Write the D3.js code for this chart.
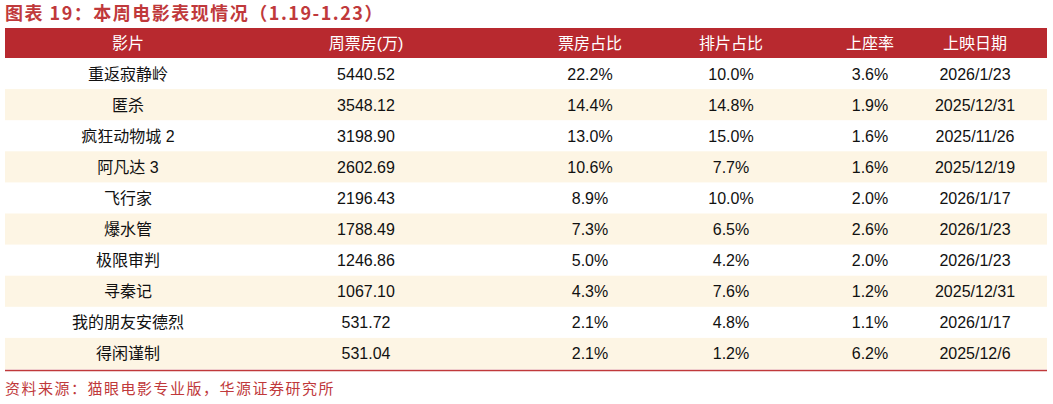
<!DOCTYPE html><html><head><meta charset="utf-8">
<script src="https://cdn.jsdelivr.net/npm/d3@7"></script>
<style>body{margin:0;background:#fff}</style></head><body><svg id="c" width="1053" height="404"></svg>
<script>
const headers=["影片","周票房(万)","票房占比","排片占比","上座率","上映日期"];
const films=["重返寂静岭","匿杀","疯狂动物城 2","阿凡达 3","飞行家","爆水管","极限审判","寻秦记","我的朋友安德烈","得闲谨制"];
const boxOffice=["5440.52","3548.12","3198.90","2602.69","2196.43","1788.49","1246.86","1067.10","531.72","531.04"];
const boxShare=["22.2%","14.4%","13.0%","10.6%","8.9%","7.3%","5.0%","4.3%","2.1%","2.1%"];
const screenShare=["10.0%","14.8%","15.0%","7.7%","10.0%","6.5%","4.2%","7.6%","4.8%","1.2%"];
const occupancy=["3.6%","1.9%","1.6%","1.6%","2.0%","2.6%","2.0%","1.2%","1.1%","6.2%"];
const releaseDate=["2026/1/23","2025/12/31","2025/11/26","2025/12/19","2026/1/17","2026/1/23","2026/1/23","2025/12/31","2026/1/17","2025/12/6"];
const cols=[films,boxOffice,boxShare,screenShare,occupancy,releaseDate];
const centers=[128,366,590,731,870,975];
const svg=d3.select("#c");
const f="'Liberation Sans','Noto Sans CJK SC',sans-serif";
svg.append("text").attr("x",5).attr("y",20).attr("fill","#C0393B").attr("font-family","'Noto Sans CJK SC',sans-serif").attr("font-weight","bold").attr("font-size",18).attr("letter-spacing",1.5).text("图表 19：本周电影表现情况（1.19-1.23）");
const y=d3.scaleBand().domain(d3.range(10)).range([58,369]);
svg.append("rect").attr("x",5).attr("y",28).attr("width",1042).attr("height",30).attr("fill","#B8292F");
headers.forEach((h,i)=>svg.append("text").attr("x",centers[i]).attr("y",49).attr("text-anchor","middle").attr("fill","#fff").attr("font-family",f).attr("font-size",16).text(h));
d3.range(10).forEach(r=>{
 if(r%2==1) svg.append("rect").attr("x",5).attr("y",y(r)).attr("width",1042).attr("height",y.bandwidth()).attr("fill","#FDF5E4");
 cols.forEach((c,i)=>svg.append("text").attr("x",centers[i]).attr("y",y(r)+y.bandwidth()/2+6).attr("text-anchor","middle").attr("fill","#111").attr("font-family",f).attr("font-size",16).text(c[r]));
});
svg.append("line").attr("x1",5).attr("x2",1047).attr("y1",370.5).attr("y2",370.5).attr("stroke","#C0393B").attr("stroke-width",1.5);
svg.append("text").attr("x",5).attr("y",394).attr("fill","#C0393B").attr("font-family","'Noto Sans CJK SC',sans-serif").attr("font-size",15).attr("letter-spacing",1.5).text("资料来源：猫眼电影专业版，华源证券研究所");
</script></body></html>
